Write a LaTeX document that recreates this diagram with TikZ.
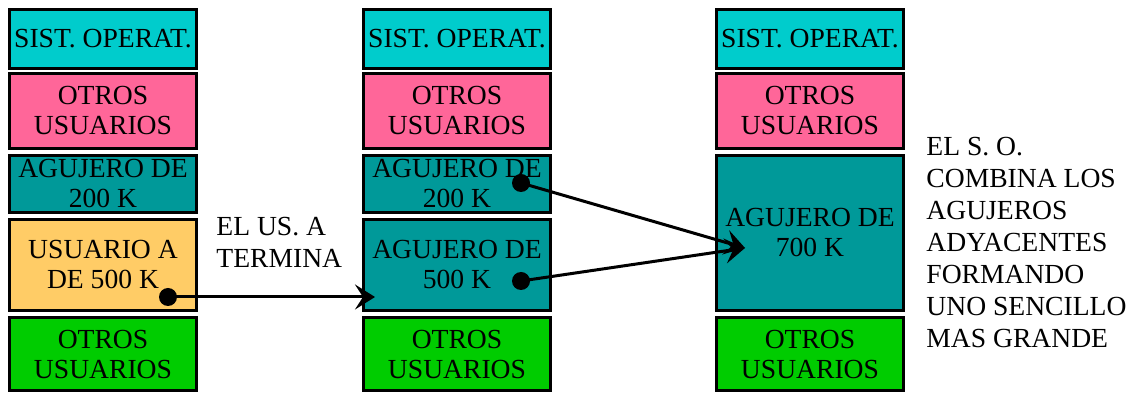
\documentclass[tikz,border=0pt]{standalone}
\usepackage{fontspec}
\setmainfont{Liberation Serif}
\usetikzlibrary{arrows.meta}
\definecolor{osCyan}{RGB}{0,204,204}
\definecolor{usrPink}{RGB}{255,102,153}
\definecolor{holeTeal}{RGB}{0,153,153}
\definecolor{usrOrange}{RGB}{255,204,102}
\definecolor{usrGreen}{RGB}{0,204,0}

\begin{document}
\begin{tikzpicture}[
  x=0.5pt,y=-0.5pt,
  >={Stealth[length=10pt,width=12.5pt,inset=4pt]},
  blk/.style={draw,line width=1.5pt,minimum width=93.5pt,inner sep=0pt,
    align=center,font=\fontsize{13.8}{15}\selectfont},
  note/.style={align=left,inner sep=0pt,font=\fontsize{13.8}{16}\selectfont},
  dot/.style={circle,fill,minimum size=9pt,inner sep=0pt},
  link/.style={->,line width=1.5pt}
]
  \useasboundingbox (0,0) rectangle (1134,394);

  % antes: el usuario A ocupa memoria
  \node[blk,fill=osCyan,minimum height=29.5pt] (so1) at (103,39) {SIST. OPERAT.};
  \node[blk,fill=usrPink,minimum height=37.5pt] (ou1) at (103,111) {OTROS\\USUARIOS};
  \node[blk,fill=holeTeal,minimum height=28.5pt] (ag1) at (103,184) {AGUJERO DE\\200 K};
  \node[blk,fill=usrOrange,minimum height=45.5pt] (ua1) at (103,265) {USUARIO A\\DE 500 K};
  \node[blk,fill=usrGreen,minimum height=36.5pt] (og1) at (103,354) {OTROS\\USUARIOS};
  \node[dot] (d1) at (168,297) {};

  \node[note,anchor=west] (fin) at (216,242) {EL US. A\\TERMINA};

  % despues: dos agujeros contiguos
  \node[blk,fill=osCyan,minimum height=29.5pt] (so2) at (457,39) {SIST. OPERAT.};
  \node[blk,fill=usrPink,minimum height=37.5pt] (ou2) at (457,111) {OTROS\\USUARIOS};
  \node[blk,fill=holeTeal,minimum height=28.5pt] (ag2) at (457,184) {AGUJERO DE\\200 K};
  \node[blk,fill=holeTeal,minimum height=45.5pt] (ah2) at (457,265) {AGUJERO DE\\500 K};
  \node[blk,fill=usrGreen,minimum height=36.5pt] (og2) at (457,354) {OTROS\\USUARIOS};
  \node[dot] (d2a) at (521,183) {};
  \node[dot] (d2b) at (521,281) {};
  \coordinate (tipA) at (375,297);

  % combinados en uno
  \node[blk,fill=osCyan,minimum height=29.5pt] (so3) at (810,39) {SIST. OPERAT.};
  \node[blk,fill=usrPink,minimum height=37.5pt] (ou3) at (810,111) {OTROS\\USUARIOS};
  \node[blk,fill=holeTeal,minimum height=77.5pt] (ag3) at (810,233) {AGUJERO DE\\700 K};
  \node[blk,fill=usrGreen,minimum height=36.5pt] (og3) at (810,354) {OTROS\\USUARIOS};
  \coordinate (tipB) at (745,248);

  \node[note,anchor=west] (expl) at (926,243)
    {EL S. O.\\COMBINA LOS\\AGUJEROS\\ADYACENTES\\FORMANDO\\UNO SENCILLO\\MAS GRANDE};

  \draw[link] (d1.center) -- (tipA);
  \draw[link] (d2a.center) -- (tipB);
  \draw[link] (d2b.center) -- (tipB);
\end{tikzpicture}
\end{document}
